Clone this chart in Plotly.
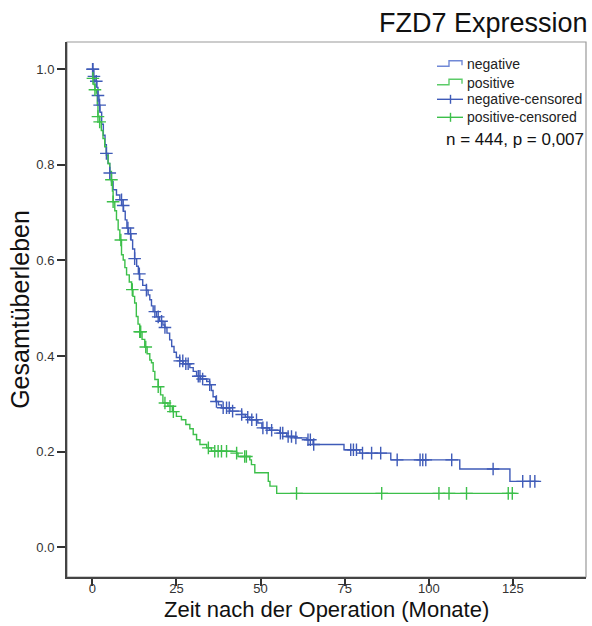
import plotly.graph_objects as go

# ---- Data ----
neg_t = [0, 0.3, 0.8, 1.4, 1.7, 2.0, 2.3, 2.8, 3.3, 3.8, 4.2, 4.7, 5.2, 5.7, 6.2, 7.2, 8.2, 8.8, 9.3, 9.8,
         10.3, 10.8, 11.5, 12.0, 12.6, 13.2, 13.7, 14.1, 15.0, 16.1, 16.6, 17.1, 17.6, 18.1, 19.1, 20.0,
         21.0, 21.6, 22.2, 23.0, 23.6, 24.3, 25.0, 26.0, 27.0, 29.0, 30.0, 31.0, 32.2, 34.0, 34.9, 35.4,
         35.9, 36.7, 37.5, 38.4, 40.9, 44.4, 45.5, 46.8, 49.2, 50.4, 52.7, 55.7, 57.8, 60.2, 63.8, 65.6,
         74.8, 79.5, 88.7, 109.2, 124.1, 132.8]
neg_s = [1.000, 0.985, 0.975, 0.962, 0.945, 0.925, 0.910, 0.885, 0.862, 0.842, 0.824, 0.803, 0.783, 0.765,
         0.748, 0.737, 0.727, 0.715, 0.703, 0.685, 0.668, 0.656, 0.643, 0.624, 0.604, 0.588, 0.572, 0.560,
         0.548, 0.538, 0.528, 0.518, 0.505, 0.493, 0.482, 0.473, 0.465, 0.460, 0.448, 0.434, 0.420, 0.408,
         0.397, 0.390, 0.384, 0.376, 0.368, 0.358, 0.352, 0.347, 0.340, 0.328, 0.315, 0.305, 0.298, 0.292,
         0.285, 0.278, 0.272, 0.267, 0.260, 0.250, 0.245, 0.239, 0.232, 0.229, 0.225, 0.215, 0.204, 0.197,
         0.183, 0.164, 0.138, 0.138]

neg_cens_t = [0.1, 0.2, 0.5, 1.2, 1.7, 2.2, 4.2, 5.2, 8.7, 9.2, 10.6, 11.4, 12.6, 14.0, 16.1, 18.6, 19.6,
              20.6, 21.6, 26.0, 26.9, 27.8, 28.5, 31.5, 32.0, 32.8, 34.9, 36.9, 38.9, 39.9, 40.7, 41.7,
              44.4, 46.2, 47.4, 48.8, 50.7, 51.9, 53.3, 55.9, 56.6, 58.2, 59.2, 60.5, 64.1, 64.8, 65.8,
              76.8, 77.6, 78.5, 80.3, 83.0, 85.7, 90.6, 97.4, 98.2, 99.1, 106.8, 119.1, 127.9, 130.1, 131.5]
neg_cens_s = [1.000, 1.000, 0.985, 0.975, 0.945, 0.925, 0.824, 0.783, 0.727, 0.715, 0.668, 0.656, 0.604,
              0.572, 0.538, 0.493, 0.482, 0.473, 0.460, 0.390, 0.390, 0.384, 0.384, 0.358, 0.358, 0.352,
              0.340, 0.305, 0.292, 0.292, 0.292, 0.285, 0.278, 0.272, 0.267, 0.267, 0.250, 0.250, 0.245,
              0.239, 0.239, 0.232, 0.232, 0.229, 0.225, 0.225, 0.215, 0.204, 0.204, 0.204, 0.197, 0.197,
              0.197, 0.183, 0.183, 0.183, 0.183, 0.183, 0.164, 0.138, 0.138, 0.138]

pos_t = [0, 0.2, 0.5, 0.8, 1.25, 1.5, 1.7, 2.2, 2.7, 3.2, 3.7, 4.2, 4.7, 5.2, 5.7, 6.0, 6.2, 6.7, 7.2, 7.7,
         8.2, 8.7, 9.2, 9.7, 10.2, 11.0, 11.7, 12.1, 12.6, 13.1, 13.6, 14.1, 14.8, 15.6, 16.3, 17.1, 17.6,
         18.1, 18.6, 19.6, 20.3, 21.0, 22.5, 23.8, 25.0, 26.5, 27.8, 29.0, 30.0, 31.0, 32.0, 34.0, 35.4,
         42.9, 43.3, 46.8, 47.3, 48.3, 52.3, 52.8, 54.8, 126.1]
pos_s = [1.000, 0.981, 0.968, 0.957, 0.950, 0.925, 0.901, 0.890, 0.872, 0.855, 0.838, 0.820, 0.803, 0.786,
         0.769, 0.745, 0.723, 0.704, 0.685, 0.664, 0.643, 0.612, 0.601, 0.585, 0.570, 0.555, 0.539, 0.525,
         0.511, 0.483, 0.467, 0.451, 0.435, 0.419, 0.405, 0.392, 0.386, 0.368, 0.351, 0.336, 0.319, 0.302,
         0.295, 0.284, 0.274, 0.267, 0.257, 0.248, 0.236, 0.225, 0.215, 0.208, 0.201, 0.197, 0.190, 0.183,
         0.173, 0.156, 0.138, 0.128, 0.113, 0.113]

pos_cens_t = [0.2, 0.8, 1.7, 2.2, 5.7, 6.2, 8.5, 11.9, 14.1, 14.4, 15.9, 19.6, 21.6, 23.1, 24.1, 34.5,
              36.4, 37.4, 38.4, 39.9, 42.9, 45.3, 45.8, 60.7, 86.0, 103.0, 106.0, 111.2, 123.6, 124.8]
pos_cens_s = [0.981, 0.957, 0.901, 0.890, 0.769, 0.723, 0.643, 0.539, 0.451, 0.451, 0.419, 0.336, 0.302,
              0.295, 0.284, 0.208, 0.201, 0.201, 0.201, 0.201, 0.197, 0.190, 0.190, 0.113, 0.113, 0.113,
              0.113, 0.113, 0.113, 0.113]

x_ticks = [0, 25, 50, 75, 100, 125]
y_ticks = [0.0, 0.2, 0.4, 0.6, 0.8, 1.0]
y_ticktext = ["0.0", "0.2", "0.4", "0.6", "0.8", "1.0"]

legend_names = ["negative", "positive", "negative-censored", "positive-censored"]

BLUE = "#3f5bb8"
GREEN = "#3cbf4a"
BLUE_LIGHT = "#7088d6"
GREEN_LIGHT = "#5ccb68"
FONT = "Liberation Sans, Arial, sans-serif"

# ---- Figure geometry (page margin removed via post_script) ----
W, H = 592, 626
ML, MR, MT, MB = 67, 6, 42, 49
PW, PH = W - ML - MR, H - MT - MB


def px(fx):
    return (fx - ML) / PW


def py(fy):
    return (MT + PH - fy) / PH


fig = go.Figure()
fig.add_trace(go.Scatter(x=neg_t, y=neg_s, mode="lines", line=dict(shape="hv", color=BLUE, width=1.4),
                         name=legend_names[0], showlegend=False))
fig.add_trace(go.Scatter(x=pos_t, y=pos_s, mode="lines", line=dict(shape="hv", color=GREEN, width=1.4),
                         name=legend_names[1], showlegend=False))
fig.add_trace(go.Scatter(x=neg_cens_t, y=neg_cens_s, mode="markers",
                         marker=dict(symbol="cross-thin", size=9, line=dict(color=BLUE, width=1.4)),
                         name=legend_names[2], showlegend=False))
fig.add_trace(go.Scatter(x=pos_cens_t, y=pos_cens_s, mode="markers",
                         marker=dict(symbol="cross-thin", size=9, line=dict(color=GREEN, width=1.4)),
                         name=legend_names[3], showlegend=False))

# ---- Legend drawn as SPSS-style glyphs + text ----
row_y = [64.3, 82.7, 99.3, 117.3]
gx0, gxm, gx1, tx = 437, 449, 462, 465
shapes = [dict(type="rect", xref="paper", yref="paper", x0=0, x1=1, y0=0, y1=1,
               line=dict(color="#999", width=1.2), layer="below")]
annotations = []
for i, (name, yc) in enumerate(zip(legend_names, row_y)):
    if i < 2:
        col = BLUE_LIGHT if i == 0 else GREEN_LIGHT
        path = (f"M {px(gx0)},{py(yc + 2)} H {px(gxm)} V {py(yc - 3.5)} "
                f"H {px(gx1)} V {py(yc + 1)}")
        shapes.append(dict(type="path", xref="paper", yref="paper", path=path,
                           line=dict(color=col, width=1.4)))
    else:
        col = BLUE if i == 2 else GREEN
        shapes.append(dict(type="line", xref="paper", yref="paper", x0=px(gx0), x1=px(gx1 + 1),
                           y0=py(yc), y1=py(yc), line=dict(color=col, width=1.4)))
        shapes.append(dict(type="line", xref="paper", yref="paper", x0=px(gxm + 1.5), x1=px(gxm + 1.5),
                           y0=py(yc - 4.5), y1=py(yc + 4.5), line=dict(color=col, width=1.4)))
    annotations.append(dict(text=name, xref="paper", yref="paper", x=px(tx), y=py(yc),
                            xanchor="left", yanchor="middle", showarrow=False,
                            font=dict(size=14, family=FONT, color="#222")))

annotations += [
    dict(text="FZD7 Expression", xref="paper", yref="paper", x=px(590), y=py(23),
         xanchor="right", yanchor="middle", showarrow=False,
         font=dict(size=27, family=FONT, color="#111")),
    dict(text="n = 444, p = 0,007", xref="paper", yref="paper", x=px(586), y=py(139.3),
         xanchor="right", yanchor="middle", showarrow=False,
         font=dict(size=17, family=FONT, color="#111")),
    dict(text="Zeit nach der Operation (Monate)", xref="paper", yref="paper", x=0.5, y=py(609),
         xanchor="center", yanchor="middle", showarrow=False,
         font=dict(size=22, family=FONT, color="#111")),
]

fig.update_layout(
    width=W, height=H,
    margin=dict(l=ML, r=MR, t=MT, b=MB),
    paper_bgcolor="white", plot_bgcolor="white",
    font=dict(family=FONT, color="#222"),
    showlegend=False,
    xaxis=dict(range=[-7.5, 146.7], tickvals=x_ticks, ticks="outside", ticklen=7, tickwidth=1.5,
               tickcolor="#333", showline=True, linecolor="#444", linewidth=2, showgrid=False,
               zeroline=False, tickfont=dict(size=13, color="#333"), ticklabelstandoff=-9),
    yaxis=dict(range=[-0.062, 1.057], tickvals=y_ticks, ticktext=y_ticktext, ticks="outside",
               ticklen=8, tickwidth=1.5, tickcolor="#333", showline=True, linecolor="#444",
               linewidth=2, showgrid=False, zeroline=False, tickfont=dict(size=13, color="#333"),
               title=dict(text="Gesamtüberleben", font=dict(size=25, color="#111"), standoff=0)),
    shapes=shapes,
    annotations=annotations,
)

fig.write_html("out.html", config={"displayModeBar": False},
               post_script="document.body.style.margin='0px';")
